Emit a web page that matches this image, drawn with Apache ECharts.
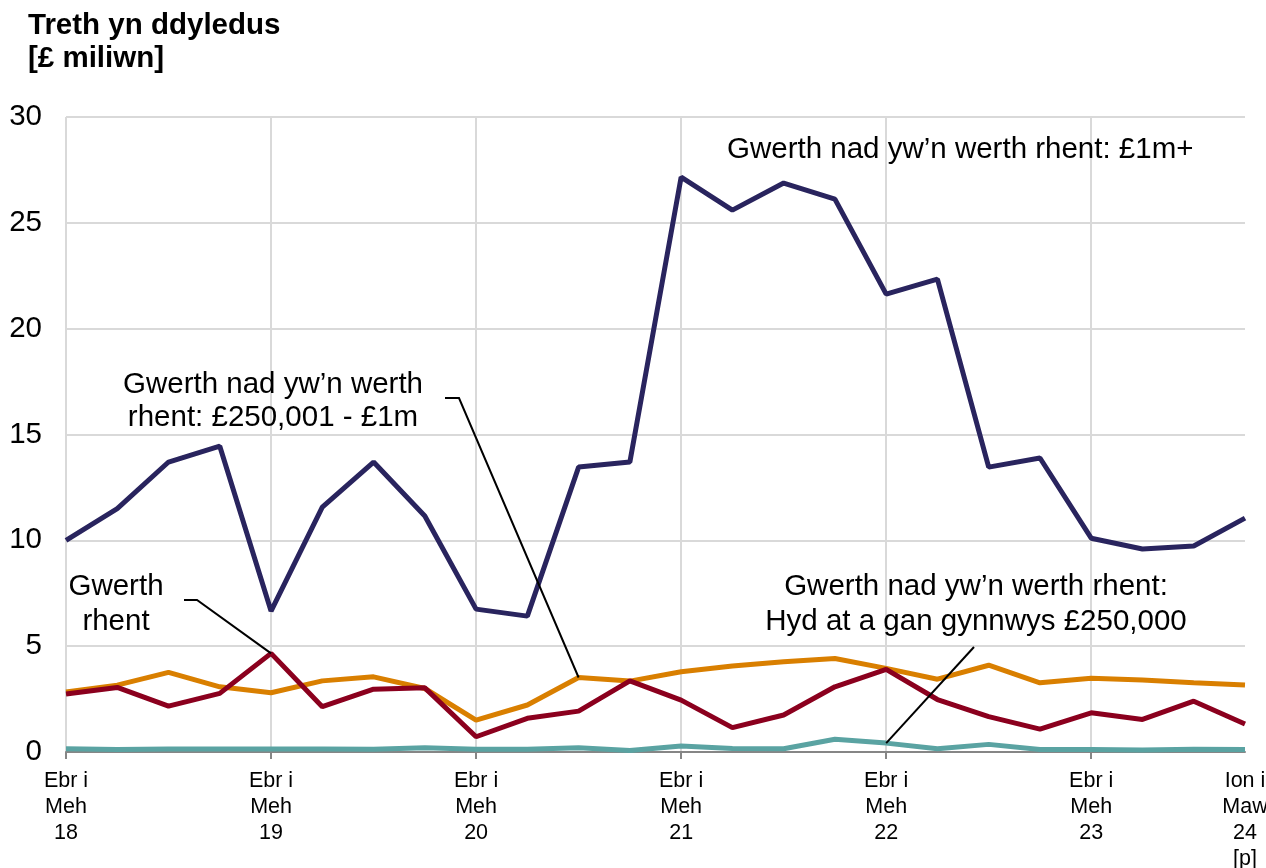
<!DOCTYPE html>
<html>
<head>
<meta charset="utf-8">
<script src="https://cdn.jsdelivr.net/npm/echarts@6/dist/echarts.min.js"></script>
<style>
  html, body { margin: 0; padding: 0; background: #fff; }
  #chart { width: 1266px; height: 868px; }
</style>
</head>
<body>
<div id="chart"></div>
<script>
// chwarteri (Ebr i Meh 18 -> Ion i Maw 24)
var categories = [
  'Ebr i\nMeh\n18', 'Gor i\nMed\n18', 'Hyd i\nRhag\n18', 'Ion i\nMaw\n19',
  'Ebr i\nMeh\n19', 'Gor i\nMed\n19', 'Hyd i\nRhag\n19', 'Ion i\nMaw\n20',
  'Ebr i\nMeh\n20', 'Gor i\nMed\n20', 'Hyd i\nRhag\n20', 'Ion i\nMaw\n21',
  'Ebr i\nMeh\n21', 'Gor i\nMed\n21', 'Hyd i\nRhag\n21', 'Ion i\nMaw\n22',
  'Ebr i\nMeh\n22', 'Gor i\nMed\n22', 'Hyd i\nRhag\n22', 'Ion i\nMaw\n23',
  'Ebr i\nMeh\n23', 'Gor i\nMed\n23', 'Hyd i\nRhag\n23', 'Ion i\nMaw\n24\n[p]'
];
var over1m = [10.0, 11.5, 13.7, 14.45, 6.66, 11.57, 13.7, 11.15, 6.75, 6.42, 13.46, 13.7,
  27.16, 25.6, 26.88, 26.12, 21.63, 22.34, 13.46, 13.89, 10.1, 9.59, 9.73, 11.05];
var mid250to1m = [2.84, 3.16, 3.76, 3.08, 2.8, 3.36, 3.55, 3.0, 1.51, 2.22, 3.52, 3.35,
  3.79, 4.06, 4.26, 4.42, 3.95, 3.44, 4.1, 3.27, 3.48, 3.4, 3.27, 3.16];
var rent = [2.74, 3.05, 2.17, 2.77, 4.66, 2.14, 2.97, 3.03, 0.72, 1.59, 1.93, 3.36,
  2.45, 1.15, 1.75, 3.08, 3.9, 2.48, 1.67, 1.08, 1.85, 1.54, 2.4, 1.32];
var upTo250k = [0.15, 0.12, 0.14, 0.14, 0.14, 0.14, 0.13, 0.2, 0.13, 0.13, 0.2, 0.07,
  0.28, 0.17, 0.15, 0.6, 0.42, 0.15, 0.36, 0.12, 0.12, 0.1, 0.13, 0.12];
var yTicks = [0, 5, 10, 15, 20, 25, 30];

var font = "'Liberation Sans', Arial, sans-serif";
var chart = echarts.init(document.getElementById('chart'));

const option = {
  animation: false,
  title: {
    text: 'Treth yn ddyledus\n[£ miliwn]',
    left: 28,
    top: 9,
    padding: 0,
    textStyle: { fontFamily: font, fontSize: 29.5, fontWeight: 'bold', color: '#000', lineHeight: 33 }
  },
  grid: { left: 66, right: 21, top: 117, bottom: 116, containLabel: false, outerBoundsMode: 'none' },
  xAxis: {
    type: 'category',
    data: categories,
    boundaryGap: false,
    axisLine: { lineStyle: { color: '#868686', width: 2 } },
    axisTick: {
      length: 7,
      interval: (i) => i % 4 === 0,
      lineStyle: { color: '#868686', width: 2 }
    },
    splitLine: {
      show: true,
      interval: (i) => i % 4 === 0 && i < 23,
      lineStyle: { color: '#d9d9d9', width: 2 }
    },
    axisLabel: {
      interval: (i) => i % 4 === 0 || i === categories.length - 1,
      fontFamily: font,
      fontSize: 21.5,
      lineHeight: 26,
      color: '#000',
      margin: 16
    }
  },
  yAxis: {
    type: 'value',
    min: yTicks[0],
    max: yTicks[yTicks.length - 1],
    interval: 5,
    axisLine: { show: false },
    axisTick: { show: false },
    splitLine: { lineStyle: { color: '#d9d9d9', width: 2 } },
    axisLabel: { fontFamily: font, fontSize: 29.5, color: '#000', margin: 24 }
  },
  series: [
    {
      name: 'Gwerth nad yw’n werth rhent: £1m+',
      type: 'line', data: over1m, symbol: 'none', z: 3,
      lineStyle: { color: '#29245e', width: 5 }
    },
    {
      name: 'Gwerth nad yw’n werth rhent: £250,001 - £1m',
      type: 'line', data: mid250to1m, symbol: 'none', z: 3,
      lineStyle: { color: '#d97f00', width: 5 }
    },
    {
      name: 'Gwerth rhent',
      type: 'line', data: rent, symbol: 'none', z: 4,
      lineStyle: { color: '#8b001e', width: 5 }
    },
    {
      name: 'Gwerth nad yw’n werth rhent: Hyd at a gan gynnwys £250,000',
      type: 'line', data: upTo250k, symbol: 'none', z: 5,
      lineStyle: { color: '#5aa3a2', width: 5 }
    }
  ]
};
chart.setOption(option);

// labeli a llinellau arwain
function pt(i, v) { return chart.convertToPixel({ gridIndex: 0 }, [i, v]); }
var pMid = pt(10, mid250to1m[10]);
var pRent = pt(4, rent[4]);
var pLow = pt(16, upTo250k[16]);
var txt = { fontFamily: font, fontSize: 29.5, fill: '#000' };

chart.setOption({
  graphic: [
    { type: 'text', z: 10, style: Object.assign({ text: 'Gwerth nad yw’n werth rhent: £1m+', x: 727, y: 150, align: 'left', verticalAlign: 'middle' }, txt) },
    { type: 'text', z: 10, style: Object.assign({ text: 'Gwerth nad yw’n werth\nrhent: £250,001 - £1m', x: 273, y: 401, align: 'center', verticalAlign: 'middle', lineHeight: 33 }, txt) },
    { type: 'text', z: 10, style: Object.assign({ text: 'Gwerth\nrhent', x: 116, y: 604, align: 'center', verticalAlign: 'middle', lineHeight: 35 }, txt) },
    { type: 'text', z: 10, style: Object.assign({ text: 'Gwerth nad yw’n werth rhent:\nHyd at a gan gynnwys £250,000', x: 976, y: 604, align: 'center', verticalAlign: 'middle', lineHeight: 35 }, txt) },
    { type: 'polyline', z: 10, shape: { points: [[445, 398], [459, 398], pMid] }, style: { stroke: '#000', lineWidth: 2, fill: null } },
    { type: 'polyline', z: 10, shape: { points: [[184, 600], [197, 600], pRent] }, style: { stroke: '#000', lineWidth: 2, fill: null } },
    { type: 'polyline', z: 10, shape: { points: [[974, 647], pLow] }, style: { stroke: '#000', lineWidth: 2, fill: null } }
  ]
});
</script>
</body>
</html>
